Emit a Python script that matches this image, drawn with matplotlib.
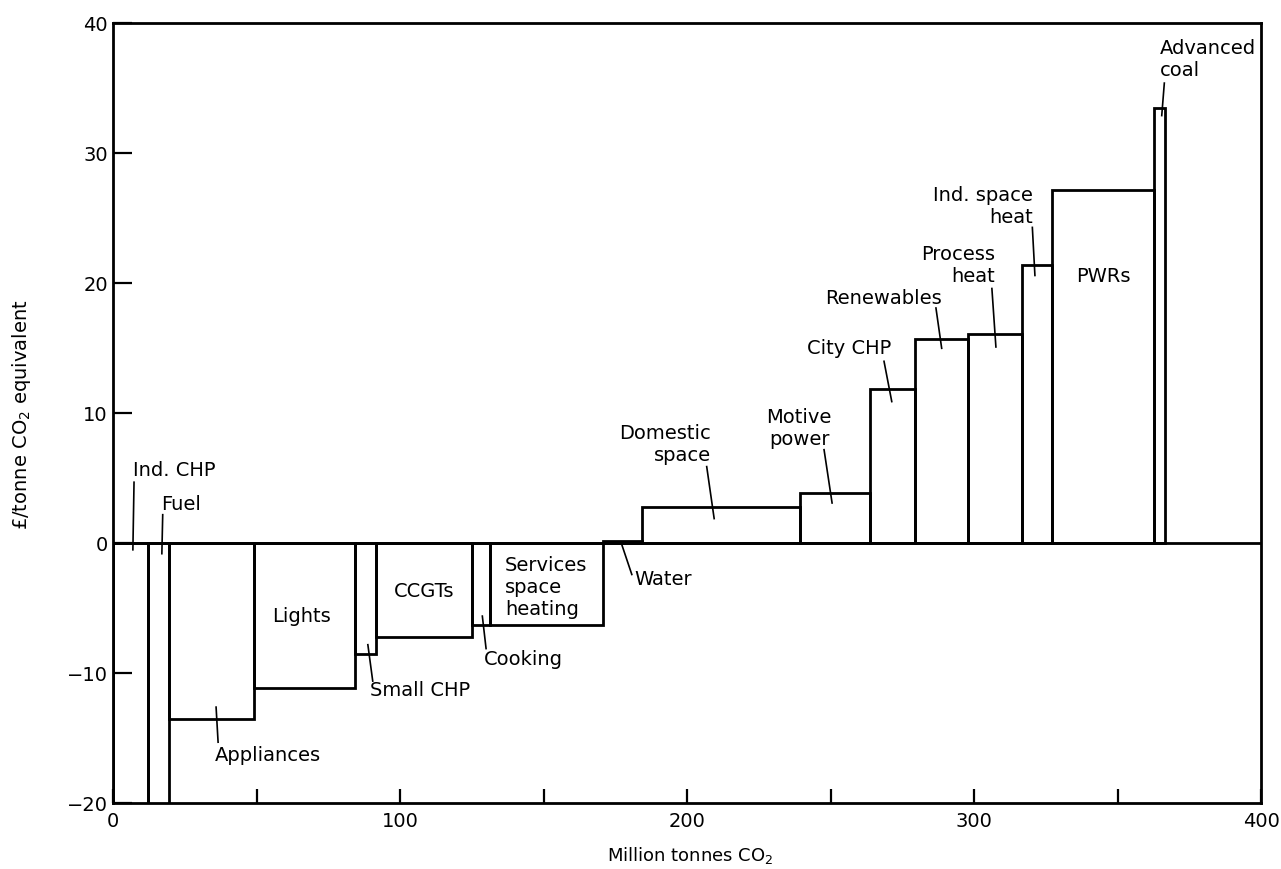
import matplotlib.pyplot as plt
import numpy as np

# abatement options, left to right along the cost curve
options = ["Ind. CHP", "Fuel", "Appliances", "Lights", "Small CHP", "CCGTs",
           "Cooking", "Services space heating", "Water", "Domestic space",
           "Motive power", "City CHP", "Renewables", "Process heat",
           "Ind. space heat", "PWRs", "Advanced coal"]
# million tonnes CO2 saved by each option
widths = [12.0, 7.5, 29.5, 35.2, 7.4, 33.3, 6.2, 39.7, 13.6, 55.0,
          24.4, 15.7, 18.3, 18.8, 10.5, 35.6, 3.9]
# cost, pounds per tonne CO2 (first two run off the bottom of the scale)
costs = [-25.0, -25.0, -13.5, -11.15, -8.5, -7.2, -6.3, -6.3, 0.2, 2.8,
         3.9, 11.9, 15.7, 16.1, 21.4, 27.2, 33.5]

# label text, text anchor (x, y, ha), leader line (x1, y1, x2, y2) or None
labels = [
    ("Ind. CHP", (6.9, 5.6, "left"), (7.2, 4.7, 6.8, -0.5)),
    ("Fuel", (16.6, 2.95, "left"), (17.2, 2.2, 16.9, -0.8)),
    ("Appliances", (53.7, -16.3, "center"), (36.5, -15.3, 35.8, -12.6)),
    ("Lights", (65.7, -5.6, "center"), None),
    ("Small CHP", (89.5, -11.3, "left"), (90.4, -10.6, 88.7, -7.8)),
    ("CCGTs", (108.3, -3.7, "center"), None),
    ("Cooking", (129.2, -8.9, "left"), (129.9, -8.1, 128.6, -5.6)),
    ("Services\nspace\nheating", (136.5, -3.4, "left"), None),
    ("Water", (181.5, -2.8, "left"), (177.2, -0.1, 180.7, -2.4)),
    ("Domestic\nspace", (208.3, 7.6, "right"), (206.8, 5.9, 209.4, 1.9)),
    ("Motive\npower", (239.0, 8.8, "center"), (247.7, 7.2, 250.5, 3.1)),
    ("City CHP", (256.5, 15.0, "center"), (268.6, 14.0, 271.3, 10.9)),
    ("Renewables", (268.4, 18.8, "center"), (286.7, 18.1, 288.7, 15.0)),
    ("Process\nheat", (307.3, 21.4, "right"), (306.2, 19.6, 307.6, 15.1)),
    ("Ind. space\nheat", (320.6, 25.9, "right"), (320.3, 24.3, 321.2, 20.6)),
    ("PWRs", (345.2, 20.5, "center"), None),
    ("Advanced\ncoal", (364.8, 37.2, "left"), (366.3, 35.4, 365.4, 32.9)),
]

lefts = np.concatenate([[0], np.cumsum(widths)[:-1]])

fig = plt.figure(figsize=(12.81, 8.69), dpi=100)
ax = fig.add_axes([0.0885, 0.0756, 0.8959, 0.8976])

ax.bar(lefts, costs, width=widths, align="edge", fill=False,
       edgecolor="black", linewidth=2.0)
ax.axhline(0, color="black", linewidth=2.0)

for text, (tx, ty, ha), line in labels:
    ax.text(tx, ty, text, ha=ha, va="center", fontsize=14, linespacing=1.2)
    if line is not None:
        ax.plot([line[0], line[2]], [line[1], line[3]], color="black", lw=1.2)

ax.set_xlim(0, 400)
ax.set_ylim(-20, 40)
ax.set_xticks([0, 100, 200, 300, 400])
ax.set_xticks([50, 150, 250, 350], minor=True)
ax.set_yticks([-20, -10, 0, 10, 20, 30, 40])
ax.tick_params(axis="y", direction="in", length=14, width=1.6, labelsize=14, pad=4)
ax.tick_params(axis="x", which="both", direction="in", length=10, width=1.6,
               labelsize=14, pad=6)
ax.set_yticklabels(["\u221220", "\u221210", "0", "10", "20", "30", "40"])
for s in ax.spines.values():
    s.set_linewidth(2.0)

fig.text(0.017, 1 - 415 / 869, "\u00a3/tonne CO$_2$ equivalent", rotation=90,
         ha="center", va="center", fontsize=14)
fig.text(690 / 1281, 1 - 855 / 869, "Million tonnes CO$_2$", ha="center",
         va="center", fontsize=13)

fig.savefig("out.png", dpi=100)
